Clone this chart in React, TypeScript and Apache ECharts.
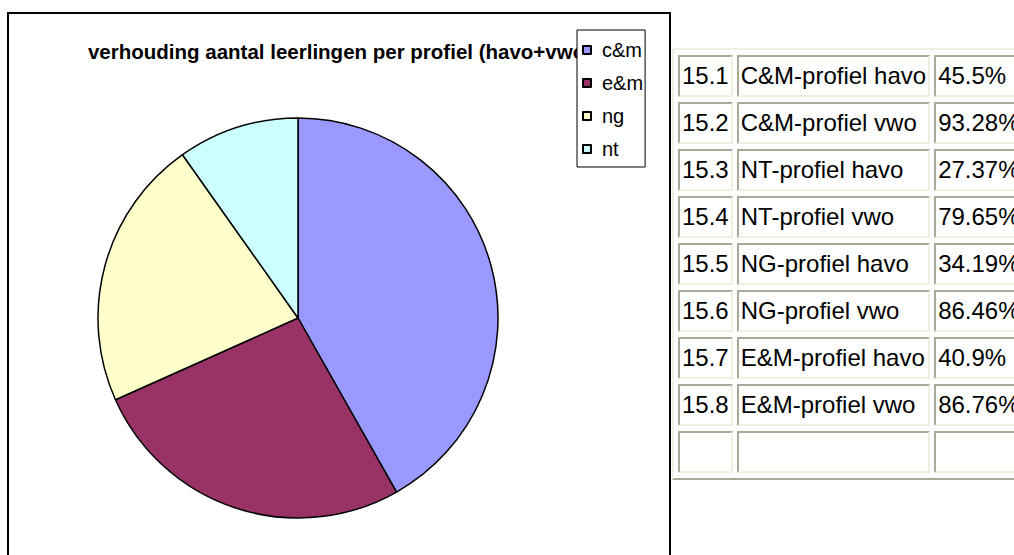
import React, { useEffect, useRef } from "react";
import * as echarts from "echarts";

const categories = ["c&m", "e&m", "ng", "nt"];
const shares = [41.8, 26.5, 21.9, 9.8];
const sliceColors = ["#9999FF", "#993366", "#FFFFCC", "#CCFFFF"];
const chartTitle = "verhouding aantal leerlingen per profiel (havo+vwo)";

const questionNos = ["15.1", "15.2", "15.3", "15.4", "15.5", "15.6", "15.7", "15.8", ""];
const questionLabels = [
  "C&M-profiel havo",
  "C&M-profiel vwo",
  "NT-profiel havo",
  "NT-profiel vwo",
  "NG-profiel havo",
  "NG-profiel vwo",
  "E&M-profiel havo",
  "E&M-profiel vwo",
  "",
];
const answers = ["45.5%", "93.28%", "27.37%", "79.65%", "34.19%", "86.46%", "40.9%", "86.76%", ""];

const FONT = "'Liberation Sans', Arial, Helvetica, sans-serif";

function Chart() {
  const ref = useRef<HTMLDivElement>(null);
  useEffect(() => {
    if (!ref.current) return;
    const chart = echarts.init(ref.current, undefined, { renderer: "svg" });
    chart.setOption({
      animation: false,
      backgroundColor: "#ffffff",
      title: {
        text: chartTitle,
        left: "center",
        top: 36,
        z: 1,
        textStyle: { fontFamily: FONT, fontSize: 20.5, fontWeight: "bold", color: "#000" },
      },
      legend: {
        orient: "vertical",
        left: 577,
        top: 30,
        z: 10,
        data: categories,
        icon: "rect",
        itemWidth: 8,
        itemHeight: 8,
        itemGap: 13,
        padding: [10, 2, 8, 5],
        backgroundColor: "#ffffff",
        borderColor: "#000",
        borderWidth: 1,
        textStyle: { fontFamily: FONT, fontSize: 20, color: "#000", padding: [0, 0, 0, 6] },
      },
      graphic: [
        {
          type: "rect",
          z: 0,
          shape: { x: 8, y: 13, width: 662, height: 600 },
          style: { fill: "none", stroke: "#000", lineWidth: 2 },
        },
      ],
      series: [
        {
          type: "pie",
          center: [298, 318],
          radius: 200,
          startAngle: 90,
          clockwise: true,
          label: { show: false },
          labelLine: { show: false },
          emphasis: { disabled: true },
          itemStyle: { borderColor: "#000", borderWidth: 1.5 },
          data: categories.map((c, i) => ({
            name: c,
            value: shares[i],
            itemStyle: { color: sliceColors[i] },
          })),
        },
      ],
    });
    return () => chart.dispose();
  }, []);
  return <div ref={ref} style={{ position: "absolute", left: 0, top: 0, width: 680, height: 555 }} />;
}

const cellBase: React.CSSProperties = {
  boxSizing: "border-box",
  height: 42,
  padding: "0 2px",
  borderTop: "2px solid #ACA899",
  borderLeft: "2px solid #ACA899",
  borderBottom: "2px solid #F1EFE2",
  borderRight: "2px solid #F1EFE2",
  fontFamily: FONT,
  fontSize: 24,
  color: "#000",
  whiteSpace: "nowrap",
  verticalAlign: "middle",
  textAlign: "left",
};

export default function App() {
  return (
    <div style={{ position: "absolute", left: 0, top: 0, width: 1014, height: 555, overflow: "hidden", background: "#fff" }}>
      <Chart />
      <table
        style={{
          position: "absolute",
          left: 672,
          top: 48,
          borderCollapse: "separate",
          borderSpacing: "4px 5px",
          borderTop: "2px solid #F1EFE2",
          borderLeft: "2px solid #F1EFE2",
          borderBottom: "2px solid #ACA899",
          borderRight: "2px solid #ACA899",
          background: "#fff",
        }}
      >
        <tbody>
          {questionNos.map((q, i) => (
            <tr key={i}>
              <td style={{ ...cellBase, width: 55 }}>{q}</td>
              <td style={{ ...cellBase, width: 194 }}>{questionLabels[i]}</td>
              <td style={{ ...cellBase, width: 130 }}>{answers[i]}</td>
            </tr>
          ))}
        </tbody>
      </table>
    </div>
  );
}
